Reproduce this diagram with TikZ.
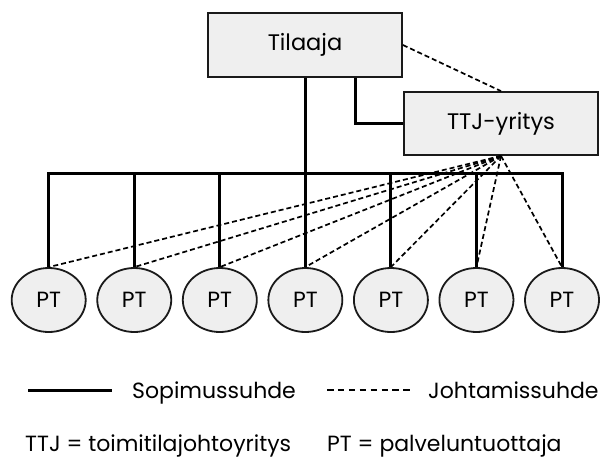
\documentclass[tikz,border=0pt]{standalone}
\usepackage{fontspec}
\setmainfont{Poppins}
\usetikzlibrary{shapes.geometric}

\definecolor{boxfill}{HTML}{EFEFEF}
\definecolor{linegray}{HTML}{1A1A1A}

\tikzset{
  orgbox/.style={draw=linegray, line width=1.8pt, fill=boxfill, rectangle,
    minimum width=194pt, minimum height=64pt, inner sep=0pt,
    font=\fontsize{22.5}{26}\selectfont},
  ptnode/.style={draw=linegray, line width=1.8pt, fill=boxfill, ellipse,
    minimum width=74pt, minimum height=64pt, inner sep=0pt,
    font=\fontsize{22}{26}\selectfont},
  contract/.style={draw=black, line width=3pt},
  manage/.style={draw=black, line width=1.7pt, dash pattern=on 5pt off 3pt},
  legendtext/.style={anchor=base west, inner sep=0pt,
    font=\fontsize{22}{26}\selectfont}
}

\begin{document}
\begin{tikzpicture}[x=1pt, y=-1pt]
  \useasboundingbox (0,0) rectangle (601,458);

  % organisations
  \node[orgbox] (tilaaja) at (305,45) {Tilaaja};
  \node[orgbox, minimum height=63pt] (ttj) at (501,123.5) {TTJ-yritys};

  % service providers
  \foreach \i in {1,...,7} {
    \node[ptnode] (pt\i) at ({48.7+85.55*(\i-1)},300) {PT};
  }

  % contract tree
  \coordinate (barL) at (48.7,173.5);
  \draw[contract] (pt1.north) -- (pt1.north |- barL) -- (pt7.north |- barL) -- (pt7.north);
  \foreach \i in {2,...,6} {
    \draw[contract] (pt\i.north) -- (pt\i.north |- barL);
  }
  \draw[contract] (tilaaja.south -| pt4.north) -- (pt4.north |- barL);
  \draw[contract] ([xshift=50pt]tilaaja.south) |- (ttj.west);

  % management relations
  \draw[manage] (tilaaja.east) -- (ttj.north);
  \foreach \i in {1,...,7} {
    \draw[manage] (ttj.south) -- (pt\i.north);
  }

  % legend
  \coordinate (solidA) at (28,390);
  \coordinate (solidB) at (112,390);
  \draw[contract] (solidA) -- (solidB);
  \node[legendtext] (sop) at (132,398) {Sopimussuhde};

  \coordinate (dashA) at (327,390);
  \coordinate (dashB) at (410,390);
  \draw[manage, line width=2.2pt, dash pattern=on 6.5pt off 4.4pt] (dashA) -- (dashB);
  \node[legendtext] (joh) at (428,398) {Johtamissuhde};

  \node[legendtext] (ttjdef) at (25,451.5) {TTJ = toimitilajohtoyritys};
  \node[legendtext] (ptdef) at (327,451.5) {PT = palveluntuottaja};
\end{tikzpicture}
\end{document}
